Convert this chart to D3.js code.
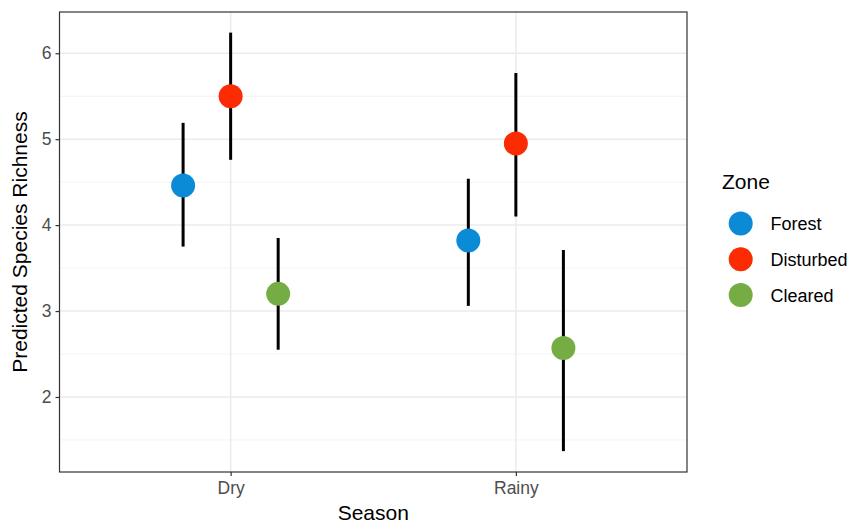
<!DOCTYPE html>
<html lang="en">
<head>
    <meta charset="UTF-8">
    <title>Predicted Species Richness</title>
    <script src="https://d3js.org/d3.v7.min.js"></script>
    <style>
        body { margin: 0; background: white; }
        svg { display: block; font-family: "Liberation Sans", Arial, sans-serif; }
    </style>
</head>
<body>
    <div id="chart"></div>
    <script>
        // Data
        const seasons = ["Dry", "Rainy"];
        const zones = ["Forest", "Disturbed", "Cleared"];
        const zoneColors = ["#0b8bd6", "#fb2c03", "#75ac43"];
        const dryEstimate = [4.46, 5.50, 3.20];
        const dryLower = [3.75, 4.76, 2.55];
        const dryUpper = [5.19, 6.24, 3.85];
        const rainyEstimate = [3.82, 4.95, 2.57];
        const rainyLower = [3.06, 4.10, 1.37];
        const rainyUpper = [4.54, 5.77, 3.71];
        const yTicks = [2, 3, 4, 5, 6];
        const yMinor = [1.5, 2.5, 3.5, 4.5, 5.5];

        const points = [];
        zones.forEach((z, i) => {
            points.push({ season: "Dry", zone: z, est: dryEstimate[i], lo: dryLower[i], hi: dryUpper[i] });
            points.push({ season: "Rainy", zone: z, est: rainyEstimate[i], lo: rainyLower[i], hi: rainyUpper[i] });
        });

        const W = 851, H = 525;
        const margin = { top: 12, right: 164, bottom: 53, left: 59.5 };
        const width = W - margin.left - margin.right,
            height = H - margin.top - margin.bottom;

        const svg = d3.select("#chart").append("svg")
            .attr("width", W).attr("height", H);
        const g = svg.append("g")
            .attr("transform", `translate(${margin.left},${margin.top})`);

        // discrete x with ggplot-like 0.6 expansion
        const x = d3.scalePoint().domain(seasons).range([0, width]).padding(0.6);
        const dodge = d3.scalePoint().domain(zones).range([-0.5 / 3, 0.5 / 3]);
        const unit = x.step();
        const y = d3.scaleLinear().domain([1.127, 6.48]).range([height, 0]);
        const color = d3.scaleOrdinal().domain(zones).range(zoneColors);

        // grid
        g.selectAll(".minor").data(yMinor).enter().append("line")
            .attr("x1", 0).attr("x2", width)
            .attr("y1", d => y(d)).attr("y2", d => y(d))
            .attr("stroke", "#f3f3f3").attr("stroke-width", 1);
        g.selectAll(".major").data(yTicks).enter().append("line")
            .attr("x1", 0).attr("x2", width)
            .attr("y1", d => y(d)).attr("y2", d => y(d))
            .attr("stroke", "#ebebeb").attr("stroke-width", 1.5);
        g.selectAll(".vmajor").data(seasons).enter().append("line")
            .attr("x1", d => x(d)).attr("x2", d => x(d))
            .attr("y1", 0).attr("y2", height)
            .attr("stroke", "#ebebeb").attr("stroke-width", 1.5);

        // error bars
        const px = d => x(d.season) + dodge(d.zone) * unit;
        g.selectAll(".err").data(points).enter().append("line")
            .attr("x1", px).attr("x2", px)
            .attr("y1", d => y(d.lo)).attr("y2", d => y(d.hi))
            .attr("stroke", "black").attr("stroke-width", 3);

        g.selectAll(".pt").data(points).enter().append("circle")
            .attr("cx", px).attr("cy", d => y(d.est))
            .attr("r", 12)
            .attr("fill", d => color(d.zone));

        // panel border
        g.append("rect")
            .attr("width", width).attr("height", height)
            .attr("fill", "none").attr("stroke", "#333").attr("stroke-width", 1.2);

        // axes
        const yAxis = g.append("g")
            .call(d3.axisLeft(y).tickValues(yTicks).tickSize(4).tickPadding(4).tickFormat(d3.format("d")));
        const xAxis = g.append("g").attr("transform", `translate(0,${height})`)
            .call(d3.axisBottom(x).tickSize(4).tickPadding(6));
        [yAxis, xAxis].forEach(a => {
            a.select(".domain").remove();
            a.selectAll(".tick line").attr("stroke", "#333").attr("stroke-width", 1.2);
            a.selectAll(".tick text").attr("fill", "#4d4d4d").style("font-size", "17.5px");
        });

        // axis titles
        svg.append("text")
            .attr("x", margin.left + width / 2).attr("y", 520)
            .attr("text-anchor", "middle")
            .style("font-size", "21px").attr("fill", "black")
            .text("Season");
        svg.append("text")
            .attr("transform", `translate(27,${margin.top + height / 2}) rotate(-90)`)
            .attr("text-anchor", "middle")
            .style("font-size", "21px").attr("fill", "black")
            .text("Predicted Species Richness");

        // legend
        const legend = svg.append("g").attr("transform", "translate(722,0)");
        legend.append("text")
            .attr("x", 0).attr("y", 189)
            .style("font-size", "21px").attr("fill", "black")
            .text("Zone");
        const item = legend.selectAll(".item").data(zones).enter().append("g")
            .attr("transform", (d, i) => `translate(0,${223.5 + i * 35.8})`);
        item.append("circle")
            .attr("cx", 18.7).attr("cy", 0).attr("r", 12)
            .attr("fill", d => color(d));
        item.append("text")
            .attr("x", 48.5).attr("y", 6.5)
            .style("font-size", "18px").attr("fill", "black")
            .text(d => d);
    </script>
</body>
</html>
